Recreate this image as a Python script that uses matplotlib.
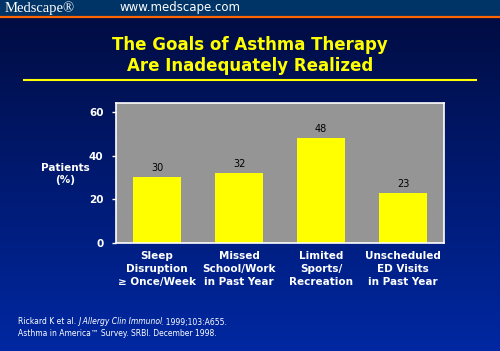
import matplotlib
matplotlib.use("Agg")
import matplotlib.pyplot as plt
import numpy as np
from matplotlib.lines import Line2D
from matplotlib.patches import Rectangle

categories = ["Sleep\nDisruption\n\u2265 Once/Week", "Missed\nSchool/Work\nin Past Year",
              "Limited\nSports/\nRecreation", "Unscheduled\nED Visits\nin Past Year"]
patients = [30, 32, 48, 23]
yticks = [0, 20, 40, 60]

fig = plt.figure(figsize=(5, 3.51), dpi=100)

# background gradient
bg = fig.add_axes([0, 0, 1, 1], zorder=-10)
grad = np.linspace(0, 1, 256).reshape(-1, 1)
top = np.array([0x00, 0x0b, 0x3e]) / 255
bot = np.array([0x00, 0x28, 0xa2]) / 255
img = top + (bot - top) * grad[..., None]
bg.imshow(img, aspect="auto", extent=[0, 1, 0, 1], origin="upper")
bg.set_xlim(0, 1)
bg.set_ylim(0, 1)
bg.axis("off")

# header band
fig.patches.append(Rectangle((0, 1 - 16/351), 1, 16/351, transform=fig.transFigure,
                             color="#003366", zorder=-5))
fig.lines.append(Line2D([0, 1], [1 - 17/351, 1 - 17/351], transform=fig.transFigure,
                        color="#ff6600", lw=1.6))
fig.text(0.01, 1 - 8/351, "Medscape\u00ae", color="white", fontsize=10.5,
         family="Liberation Serif", va="center", ha="left")
fig.text(0.238, 1 - 8/351, "www.medscape.com", color="white", fontsize=8.5,
         va="center", ha="left")

# title
fig.text(0.5, 1 - 45/351, "The Goals of Asthma Therapy", color="#ffff00", fontsize=12,
         fontweight="bold", ha="center", va="center")
fig.text(0.5, 1 - 66/351, "Are Inadequately Realized", color="#ffff00", fontsize=12,
         fontweight="bold", ha="center", va="center")
fig.lines.append(Line2D([24/500, 476/500], [1 - 80/351, 1 - 80/351], transform=fig.transFigure,
                        color="#ffff00", lw=1.5))

# chart
ax = fig.add_axes([116/500, 108/351, 328/500, 140/351])
ax.set_facecolor("#959595")
x = np.arange(len(patients))
bars = ax.bar(x, patients, width=0.585, color="#ffff00")
for xi, v in zip(x, patients):
    ax.annotate(str(v), (xi, v), xytext=(0, 3), textcoords="offset points",
                ha="center", va="bottom", fontsize=7, color="black")
ax.set_xlim(-0.5, 3.5)
ax.set_ylim(0, 64.1)
ax.set_yticks(yticks)
ax.set_xticks(x)
ax.set_xticklabels(categories, color="white", fontsize=7.5, fontweight="bold",
                   linespacing=1.35)
ax.tick_params(axis="x", length=0, pad=6)
ax.tick_params(axis="y", colors="white", length=3, width=1, labelsize=7.5, pad=6)
for lab in ax.get_yticklabels():
    lab.set_fontweight("bold")
for s in ax.spines.values():
    s.set_color("white")
    s.set_linewidth(1.2)

fig.text(65/500, 1 - 174/351, "Patients\n(%)", color="white", fontsize=7.5,
         fontweight="bold", ha="center", va="center", linespacing=1.3)

# footnote with italic journal name
fig.canvas.draw()
r = fig.canvas.get_renderer()
xpos = 18/500
ypos = 1 - 322/351
for txt, st in [("Rickard K et al. ", "normal"), ("J Allergy Clin Immunol", "italic"),
                (". 1999;103:A655.", "normal")]:
    t = fig.text(xpos, ypos, txt, color="white", fontsize=5.5, style=st, va="center")
    bb = t.get_window_extent(renderer=r)
    xpos += bb.width / fig.bbox.width
    if st == "italic":
        xpos -= 1.5/500
fig.text(18/500, 1 - 333/351, "Asthma in America\u2122 Survey. SRBI. December 1998.",
         color="white", fontsize=5.5, va="center")

fig.savefig("out.png", dpi=100)
